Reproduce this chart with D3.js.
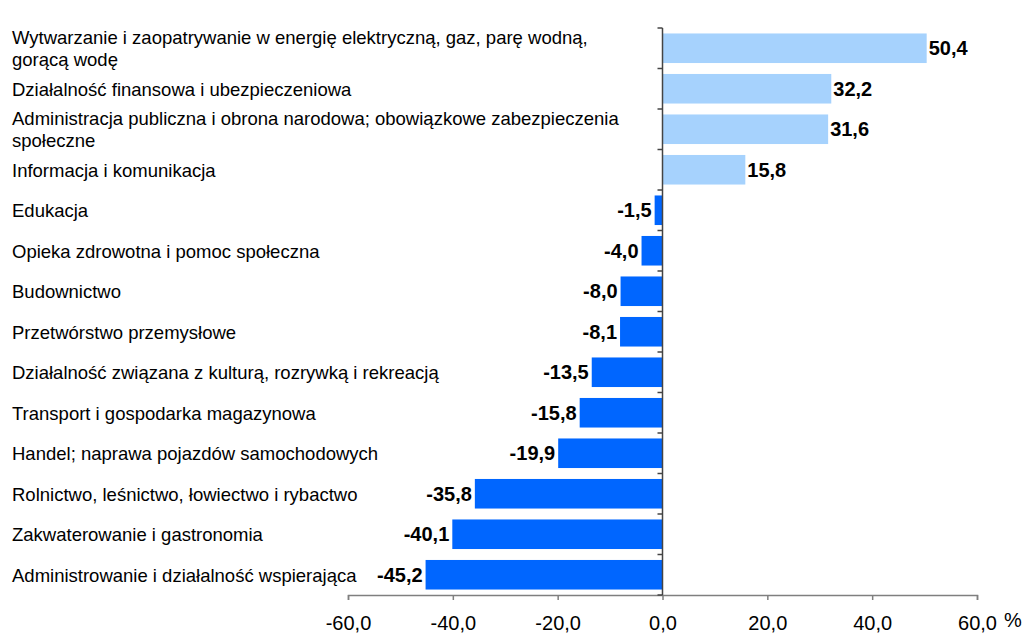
<!DOCTYPE html>
<html>
<head>
  <meta charset="utf-8">
  <script src="https://d3js.org/d3.v7.min.js"></script>
  <style>
  body { margin: 0; background: #fff; }
  text { font-family: "Liberation Sans", Arial, sans-serif; }
  </style>
</head>
<body>
  <script>
  var w = 1023;
  var h = 634;

  //Categories, top to bottom ("\n" marks a line break)
  var categories = [
    "Wytwarzanie i zaopatrywanie w energię elektryczną, gaz, parę wodną,\ngorącą wodę",
    "Działalność finansowa i ubezpieczeniowa",
    "Administracja publiczna i obrona narodowa; obowiązkowe zabezpieczenia\nspołeczne",
    "Informacja i komunikacja",
    "Edukacja",
    "Opieka zdrowotna i pomoc społeczna",
    "Budownictwo",
    "Przetwórstwo przemysłowe",
    "Działalność związana z kulturą, rozrywką i rekreacją",
    "Transport i gospodarka magazynowa",
    "Handel; naprawa pojazdów samochodowych",
    "Rolnictwo, leśnictwo, łowiectwo i rybactwo",
    "Zakwaterowanie i gastronomia",
    "Administrowanie i działalność wspierająca"
  ];

  //Change in %
  var values = [50.4, 32.2, 31.6, 15.8, -1.5, -4.0, -8.0, -8.1, -13.5, -15.8, -19.9, -35.8, -40.1, -45.2];

  //Axis ticks
  var xTicks = [-60, -40, -20, 0, 20, 40, 60];

  var fmt = function(v){ return v.toFixed(1).replace(".", ","); };

  var svg = d3.select("body")
    .append("svg")
    .attr("width", w)
    .attr("height", h);

  var x = d3.scaleLinear()
    .domain([-60, 60])
    .range([348, 977]);

  var y = d3.scaleBand()
    .domain(d3.range(categories.length))
    .range([28, 595])
    .paddingInner(0.27)
    .paddingOuter(0.135);

  //Bars
  svg.append("g")
    .selectAll("rect")
    .data(values)
    .enter()
    .append("rect")
      .attr("x", function(d){ return x(Math.min(0, d)); })
      .attr("y", function(d, i){ return y(i); })
      .attr("width", function(d){ return Math.abs(x(d) - x(0)); })
      .attr("height", y.bandwidth())
      .attr("fill", function(d){ return d >= 0 ? "#a6d2fd" : "#0066ff"; });

  //Value labels
  svg.append("g")
    .selectAll("text")
    .data(values)
    .enter()
    .append("text")
      .attr("x", function(d){ return d >= 0 ? x(d) + 2 : x(d) - 3; })
      .attr("y", function(d, i){ return y(i) + y.bandwidth() / 2; })
      .attr("dy", "0.35em")
      .attr("text-anchor", function(d){ return d >= 0 ? "start" : "end"; })
      .style("font-size", "20px")
      .style("font-weight", "bold")
      .text(fmt);

  //Bottom axis
  var xAxis = svg.append("g")
    .attr("transform", "translate(0," + 595 + ")")
    .call(d3.axisBottom(x).tickValues(xTicks).tickSize(5).tickPadding(16).tickFormat(fmt));
  xAxis.select(".domain").attr("stroke", "#7f7f7f").attr("stroke-width", 1.5);
  xAxis.selectAll(".tick line").attr("stroke", "#7f7f7f").attr("stroke-width", 1.5);
  xAxis.selectAll(".tick text")
    .attr("fill", "#000")
    .style("font-size", "20px")
    .style("font-family", "'Liberation Sans', Arial, sans-serif");

  svg.append("text")
    .attr("x", 1004)
    .attr("y", 627)
    .style("font-size", "20px")
    .text("%");

  //Vertical zero axis with category separators
  var bounds = d3.range(categories.length + 1).map(function(i){
    return 28 + i * (595 - 28) / categories.length;
  });
  svg.append("line")
    .attr("x1", x(0)).attr("x2", x(0))
    .attr("y1", 28).attr("y2", 595)
    .attr("stroke", "#444")
    .attr("stroke-width", 1.5);
  svg.append("g")
    .selectAll("line")
    .data(bounds)
    .enter()
    .append("line")
      .attr("x1", x(0) - 5).attr("x2", x(0))
      .attr("y1", function(d){ return d; })
      .attr("y2", function(d){ return d; })
      .attr("stroke", "#444")
      .attr("stroke-width", 1.5);

  //Category labels on the left
  var lab = svg.append("g")
    .selectAll("text")
    .data(categories)
    .enter()
    .append("text")
      .attr("x", 12)
      .attr("y", function(d, i){
        var n = d.split("\n").length;
        return y(i) + y.bandwidth() / 2 - (n - 1) * 11;
      })
      .style("font-size", "18.5px")
      .attr("fill", "#000");

  lab.selectAll("tspan")
    .data(function(d){ return d.split("\n"); })
    .enter()
    .append("tspan")
      .attr("x", 12)
      .attr("dy", function(d, i){ return i ? 22 : "0.38em"; })
      .text(function(d){ return d; });
  </script>
</body>
</html>
